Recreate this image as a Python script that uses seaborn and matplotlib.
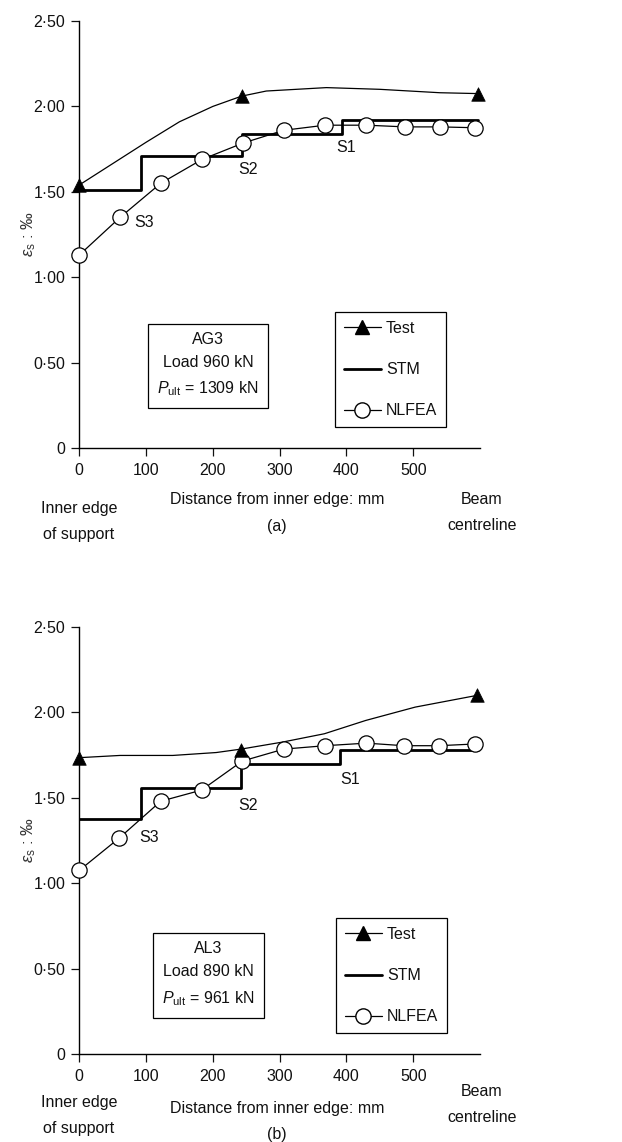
import numpy as np
import pandas as pd
import matplotlib
matplotlib.use("Agg")
import matplotlib.pyplot as plt
import seaborn as sns
from matplotlib.lines import Line2D
from matplotlib.ticker import FixedLocator, FixedFormatter

# ---------------- data ----------------
# Panel (a) AG3
a_test_x = [0, 243, 597]
a_test_y = [1.54, 2.06, 2.075]
a_test_curve_x = [0, 50, 100, 150, 200, 243, 280, 370, 450, 540, 597]
a_test_curve_y = [1.54, 1.665, 1.79, 1.91, 2.00, 2.06, 2.09, 2.11, 2.10, 2.08, 2.075]
a_stm_x = [0, 93, 243, 394, 597]
a_stm_y = [1.51, 1.71, 1.84, 1.92, 1.92]
a_nlfea_x = [0, 61, 122, 184, 245, 306, 368, 430, 488, 540, 593]
a_nlfea_y = [1.13, 1.35, 1.55, 1.69, 1.785, 1.86, 1.89, 1.89, 1.88, 1.88, 1.875]

# Panel (b) AL3
b_test_x = [0, 242, 596]
b_test_y = [1.735, 1.78, 2.10]
b_test_curve_x = [0, 61, 140, 205, 242, 304, 367, 429, 503, 596]
b_test_curve_y = [1.735, 1.748, 1.748, 1.765, 1.785, 1.826, 1.875, 1.953, 2.031, 2.10]
b_stm_x = [0, 93, 242, 391, 597]
b_stm_y = [1.375, 1.56, 1.70, 1.78, 1.78]
b_nlfea_x = [0, 60, 122, 183, 244, 306, 368, 430, 486, 538, 592]
b_nlfea_y = [1.075, 1.265, 1.48, 1.545, 1.715, 1.785, 1.805, 1.82, 1.805, 1.805, 1.815]

x_ticks = [0, 100, 200, 300, 400, 500]
y_ticks = [0, 0.5, 1.0, 1.5, 2.0, 2.5]
y_tick_labels = ["0", "0·50", "1·00", "1·50", "2·00", "2·50"]

# ---------------- style ----------------
sns.set_theme(style="ticks")
plt.rcParams["font.family"] = ["Liberation Sans", "DejaVu Sans"]
plt.rcParams["mathtext.fontset"] = "custom"
plt.rcParams["mathtext.rm"] = "Liberation Sans"
plt.rcParams["mathtext.it"] = "Liberation Sans:italic"
plt.rcParams["mathtext.bf"] = "Liberation Sans:bold"
plt.rcParams["text.color"] = "#111111"
plt.rcParams["axes.labelcolor"] = "#111111"
plt.rcParams["xtick.color"] = "#111111"
plt.rcParams["ytick.color"] = "#111111"
plt.rcParams["xtick.labelcolor"] = "#111111"
plt.rcParams["ytick.labelcolor"] = "#111111"

FS = 11.5
W, H = 622, 1142
fig = plt.figure(figsize=(W / 100, H / 100), dpi=100)


def fx(px):
    return px / W


def fy(py):
    return 1 - py / H


def make_panel(rect, tx, ty, tcx, tcy, sx, sy, nx, ny, annots, box_text, box_xy, leg_xy):
    ax = fig.add_axes(rect)
    # STM step line
    sns.lineplot(x=sx, y=sy, drawstyle="steps-post", color="black", lw=2.0,
                 ax=ax, zorder=2, sort=False, estimator=None)
    # Test smooth curve + triangles
    sns.lineplot(x=tcx, y=tcy, color="black", lw=0.9, ax=ax, zorder=2,
                 sort=False, estimator=None)
    sns.scatterplot(x=tx, y=ty, marker="^", s=95, color="black",
                    edgecolor="black", linewidth=0.5, ax=ax, zorder=4, clip_on=False)
    # NLFEA
    sns.lineplot(x=nx, y=ny, color="black", lw=0.9, marker="o", markersize=11,
                 markerfacecolor="white", markeredgecolor="black",
                 markeredgewidth=0.9, ax=ax, zorder=3, sort=False,
                 estimator=None, clip_on=False)

    ax.set_xlim(0, 600)
    ax.set_ylim(0, 2.5)
    ax.xaxis.set_major_locator(FixedLocator(x_ticks))
    ax.yaxis.set_major_locator(FixedLocator(y_ticks))
    ax.yaxis.set_major_formatter(FixedFormatter(y_tick_labels))
    ax.tick_params(axis="both", direction="out", length=6, width=0.9,
                   labelsize=FS, colors="#111111")
    ax.tick_params(axis="x", pad=5)
    ax.tick_params(axis="y", pad=4)
    sns.despine(ax=ax)
    for s in ["left", "bottom"]:
        ax.spines[s].set_color("black")
        ax.spines[s].set_linewidth(1.0)
    ax.set_xlabel("")
    ax.set_ylabel("")

    for (lx, ly, lt) in annots:
        ax.text(lx, ly, lt, ha="center", va="center", fontsize=FS)

    fig.text(fx(box_xy[0]), fy(box_xy[1]), box_text, ha="center", va="center",
             fontsize=FS, linespacing=1.7,
             bbox=dict(boxstyle="square,pad=0.6", fc="white", ec="black", lw=0.9))

    handles = [
        Line2D([], [], color="black", lw=0.9, marker="^", markersize=10,
               markerfacecolor="black", markeredgecolor="black"),
        Line2D([], [], color="black", lw=2.0),
        Line2D([], [], color="black", lw=0.9, marker="o", markersize=11,
               markerfacecolor="white", markeredgecolor="black"),
    ]
    leg = fig.legend(handles, ["Test", "STM", "NLFEA"], loc="upper left",
                     bbox_to_anchor=(fx(leg_xy[0]), fy(leg_xy[1])),
                     frameon=True, fancybox=False, framealpha=1, edgecolor="black",
                     fontsize=FS, handlelength=2.3, handletextpad=0.35,
                     labelspacing=1.65, borderpad=0.55, borderaxespad=0)
    leg.get_frame().set_linewidth(0.9)
    return ax


ax_a = make_panel([fx(79.3), fy(448), 400.7 / W, 427 / H],
                  a_test_x, a_test_y, a_test_curve_x, a_test_curve_y,
                  a_stm_x, a_stm_y, a_nlfea_x, a_nlfea_y,
                  [(399, 1.76, "S1"), (252, 1.63, "S2"), (97, 1.32, "S3")],
                  "AG3\nLoad 960 kN\n$P_{\\mathrm{ult}}$ = 1309 kN",
                  (208, 365), (335, 312))

ax_b = make_panel([fx(79.3), fy(1054), 400.7 / W, 427 / H],
                  b_test_x, b_test_y, b_test_curve_x, b_test_curve_y,
                  b_stm_x, b_stm_y, b_nlfea_x, b_nlfea_y,
                  [(406, 1.61, "S1"), (252, 1.455, "S2"), (104, 1.27, "S3")],
                  "AL3\nLoad 890 kN\n$P_{\\mathrm{ult}}$ = 961 kN",
                  (208.5, 974.5), (336, 918))

# y-axis labels
for cy in (234.5, 840.5):
    fig.text(fx(29), fy(cy), "$\\varepsilon_{\\mathrm{s}}$ : ‰", rotation=90,
             ha="center", va="center", fontsize=12, color="#333333")

# bottom text labels (a)
fig.text(fx(79), fy(509), "Inner edge", ha="center", va="center", fontsize=FS)
fig.text(fx(79), fy(535), "of support", ha="center", va="center", fontsize=FS)
fig.text(fx(277), fy(499), "Distance from inner edge: mm", ha="center", va="center", fontsize=FS)
fig.text(fx(277), fy(527), "(a)", ha="center", va="center", fontsize=FS)
fig.text(fx(482), fy(499), "Beam", ha="center", va="center", fontsize=FS)
fig.text(fx(482), fy(526), "centreline", ha="center", va="center", fontsize=FS)

# bottom text labels (b)
fig.text(fx(79), fy(1102), "Inner edge", ha="center", va="center", fontsize=FS)
fig.text(fx(79), fy(1128), "of support", ha="center", va="center", fontsize=FS)
fig.text(fx(277), fy(1108), "Distance from inner edge: mm", ha="center", va="center", fontsize=FS)
fig.text(fx(277), fy(1135), "(b)", ha="center", va="center", fontsize=FS)
fig.text(fx(482), fy(1092), "Beam", ha="center", va="center", fontsize=FS)
fig.text(fx(482), fy(1118), "centreline", ha="center", va="center", fontsize=FS)

fig.savefig("out.png", dpi=100, facecolor="white")
